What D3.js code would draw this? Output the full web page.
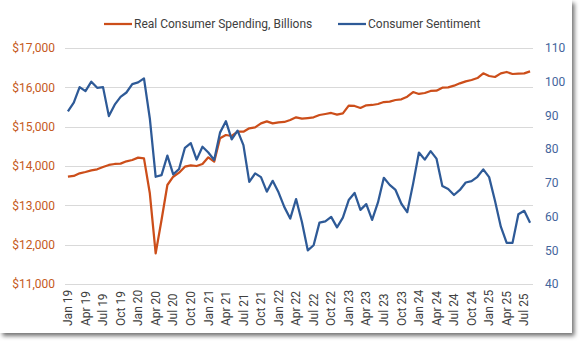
<!DOCTYPE html>
<meta charset="utf-8">
<style>
body {
  margin: 0;
  background: #fff;
  font: 12px Roboto, sans-serif;
}
.grid line {
  stroke: #d9d9d9;
  stroke-width: 1;
}
.axis path {
  display: none;
}
</style>
<body>
<svg id="chart" width="582" height="345"></svg>
<script src="https://cdn.jsdelivr.net/npm/d3@7"></script>
<script>

// monthly categories, Jan 2019 .. Aug 2025
var months = [
  "Jan 19","Feb 19","Mar 19","Apr 19","May 19","Jun 19","Jul 19","Aug 19","Sep 19","Oct 19","Nov 19","Dec 19",
  "Jan 20","Feb 20","Mar 20","Apr 20","May 20","Jun 20","Jul 20","Aug 20","Sep 20","Oct 20","Nov 20","Dec 20",
  "Jan 21","Feb 21","Mar 21","Apr 21","May 21","Jun 21","Jul 21","Aug 21","Sep 21","Oct 21","Nov 21","Dec 21",
  "Jan 22","Feb 22","Mar 22","Apr 22","May 22","Jun 22","Jul 22","Aug 22","Sep 22","Oct 22","Nov 22","Dec 22",
  "Jan 23","Feb 23","Mar 23","Apr 23","May 23","Jun 23","Jul 23","Aug 23","Sep 23","Oct 23","Nov 23","Dec 23",
  "Jan 24","Feb 24","Mar 24","Apr 24","May 24","Jun 24","Jul 24","Aug 24","Sep 24","Oct 24","Nov 24","Dec 24",
  "Jan 25","Feb 25","Mar 25","Apr 25","May 25","Jun 25","Jul 25","Aug 25"
];

// real consumer spending, billions
var spending = [
  13728, 13746, 13814, 13848, 13890, 13916, 13975, 14026, 14051, 14060, 14119, 14153,
  14212, 14195, 13306, 11780, 12628, 13517, 13728, 13830, 13983, 14017, 14000, 14051,
  14221, 14110, 14705, 14788, 14763, 14873, 14873, 14958, 14983, 15085, 15136, 15085,
  15111, 15119, 15170, 15238, 15203, 15220, 15238, 15297, 15322, 15348, 15305, 15339,
  15534, 15526, 15475, 15543, 15551, 15576, 15627, 15635, 15678, 15695, 15763, 15881,
  15831, 15856, 15907, 15915, 15991, 16000, 16042, 16102, 16153, 16187, 16237, 16356,
  16288, 16263, 16356, 16390, 16339, 16347, 16356, 16407
];

// consumer sentiment index
var sentiment = [
  91.2, 93.8, 98.4, 97.2, 100.0, 98.2, 98.4, 89.8, 93.2, 95.5, 96.8, 99.3,
  99.8, 101.0, 89.1, 71.8, 72.3, 78.1, 72.5, 74.1, 80.4, 81.8, 76.9, 80.7,
  79.0, 76.8, 84.9, 88.3, 82.9, 85.5, 81.2, 70.3, 72.8, 71.7, 67.4, 70.6,
  67.2, 62.8, 59.4, 65.2, 58.4, 50.0, 51.5, 58.2, 58.6, 59.9, 56.8, 59.7,
  64.9, 67.0, 62.0, 63.7, 59.0, 64.2, 71.5, 69.4, 67.9, 63.8, 61.3, 69.7,
  79.0, 76.9, 79.4, 77.2, 69.1, 68.2, 66.4, 67.9, 70.1, 70.5, 71.8, 74.0,
  71.7, 64.7, 57.0, 52.2, 52.2, 60.7, 61.7, 58.2
];

var leftTicks = [11000, 12000, 13000, 14000, 15000, 16000, 17000];
var rightTicks = [40, 50, 60, 70, 80, 90, 100, 110];
var xTicks = months.filter(function(d, i) { return i % 3 === 0; });

var orange = "#cc4e1a",
    blue = "#2e5a97";

var svg = d3.select("#chart"),
    margin = {top: 48, right: 49, bottom: 61, left: 65},
    width = svg.attr("width") - margin.left - margin.right,
    height = svg.attr("height") - margin.top - margin.bottom;

// frame with a soft shadow
var defs = svg.append("defs");
var shadow = defs.append("filter")
    .attr("id", "shadow")
    .attr("x", "-5%").attr("y", "-5%")
    .attr("width", "110%").attr("height", "112%");
shadow.append("feDropShadow")
    .attr("dx", 2.5)
    .attr("dy", 3)
    .attr("stdDeviation", 2)
    .attr("flood-color", "#000")
    .attr("flood-opacity", 0.55);

svg.append("rect")
    .attr("x", 0)
    .attr("y", 0)
    .attr("width", 572)
    .attr("height", 333)
    .attr("fill", "#fff")
    .attr("filter", "url(#shadow)");

var x = d3.scaleBand().domain(months).range([0, width]),
    yL = d3.scaleLinear().domain([11000, 17000]).range([height, 0]),
    yR = d3.scaleLinear().domain([40, 110]).range([height, 0]);

var g = svg.append("g")
    .attr("transform", "translate(" + margin.left + "," + margin.top + ")");

g.append("g")
    .attr("class", "grid")
  .selectAll("line")
  .data(leftTicks)
  .enter().append("line")
    .attr("x1", 0)
    .attr("x2", width)
    .attr("y1", function(d) { return Math.round(yL(d)) + 0.5; })
    .attr("y2", function(d) { return Math.round(yL(d)) + 0.5; });

// left axis, dollars
g.append("g")
    .attr("class", "axis axis--left")
    .call(d3.axisLeft(yL)
      .tickValues(leftTicks)
      .tickSize(0)
      .tickPadding(10)
      .tickFormat(function(d) { return "$" + d3.format(",")(d); }))
    .call(function(a) {
      a.selectAll("text")
        .attr("fill", "#c55a22")
        .style("font", "12px Roboto, sans-serif");
    });

// right axis, index
g.append("g")
    .attr("class", "axis axis--right")
    .attr("transform", "translate(" + width + ",0)")
    .call(d3.axisRight(yR)
      .tickValues(rightTicks)
      .tickSize(0)
      .tickPadding(12))
    .call(function(a) {
      a.selectAll("text")
        .attr("fill", "#44659c")
        .style("font", "12px Roboto, sans-serif");
    });

// month labels, rotated
g.append("g")
    .attr("class", "axis axis--x")
    .attr("transform", "translate(0," + height + ")")
    .call(d3.axisBottom(x).tickValues(xTicks).tickSize(0))
    .call(function(a) {
      a.selectAll("text")
        .attr("transform", "rotate(-90)")
        .attr("x", -42)
        .attr("y", 0)
        .attr("dy", "0.35em")
        .attr("fill", "#404040")
        .style("text-anchor", "start")
        .style("font", "12px Roboto, sans-serif");
    });

var cx = function(i) { return x(months[i]) + x.bandwidth() / 2; };

var spendLine = d3.line()
    .x(function(d, i) { return cx(i); })
    .y(function(d) { return yL(d); });

var sentLine = d3.line()
    .x(function(d, i) { return cx(i); })
    .y(function(d) { return yR(d); });

g.append("path")
    .datum(spending)
    .attr("fill", "none")
    .attr("stroke", orange)
    .attr("stroke-width", 2.25)
    .attr("stroke-linejoin", "round")
    .attr("d", spendLine);

g.append("path")
    .datum(sentiment)
    .attr("fill", "none")
    .attr("stroke", blue)
    .attr("stroke-width", 2.25)
    .attr("stroke-linejoin", "round")
    .attr("d", sentLine);

// legend
var legendItems = [
  {label: "Real Consumer Spending, Billions", color: orange, x: 104},
  {label: "Consumer Sentiment", color: blue, x: 338}
];

var legend = svg.selectAll(".legend")
    .data(legendItems)
  .enter().append("g")
    .attr("class", "legend")
    .attr("transform", function(d) { return "translate(" + d.x + ",24)"; });

legend.append("line")
    .attr("x1", 0)
    .attr("x2", 28)
    .attr("stroke", function(d) { return d.color; })
    .attr("stroke-width", 2.25);

legend.append("text")
    .attr("x", 30)
    .attr("dy", "0.35em")
    .attr("fill", "#404040")
    .style("font", "12px Roboto, sans-serif")
    .text(function(d) { return d.label; });

</script>
</body>
</html>
